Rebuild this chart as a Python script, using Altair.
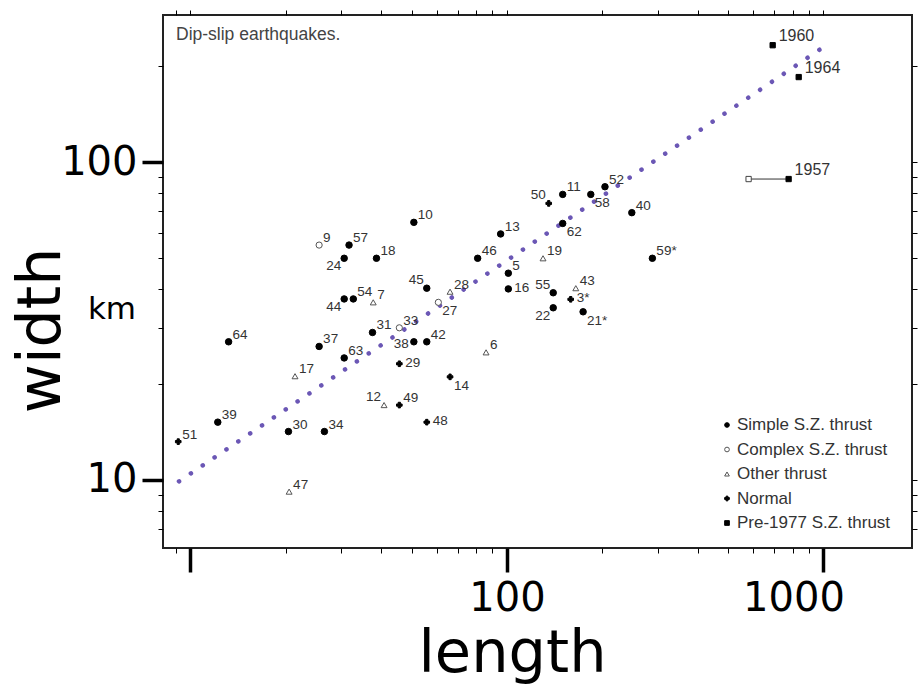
import altair as alt
import pandas as pd

# ---------------- data ----------------
ids = ["9", "57", "24", "18", "10", "13", "46", "5", "45", "16",
       "28", "54", "44", "7", "27", "31", "33", "38", "42", "64",
       "37", "63", "6", "29", "17", "14", "12", "49", "48", "39",
       "30", "34", "51", "47", "50", "11", "52", "58", "40", "62",
       "59*", "19", "55", "43", "3*", "22", "21*", "1960", "1964", "1957"]
lengths = [25.5, 31.7, 30.6, 38.7, 50.8, 95.5, 80.8, 101, 55.8, 101,
           66.1, 32.7, 30.6, 37.8, 60.7, 37.6, 45.7, 50.8, 55.8, 13.2,
           25.5, 30.6, 85.9, 45.7, 21.4, 66.1, 40.9, 45.7, 55.8, 12.2,
           20.4, 26.5, 9.15, 20.5, 135.5, 150, 204, 184, 248, 150,
           288, 130, 140, 165, 159, 140, 174, 691, 835, 776]
widths = [54.8, 54.8, 49.8, 49.8, 64.6, 59.4, 49.8, 44.7, 40.1, 39.9,
          39.1, 37.1, 37.1, 36.2, 36.2, 29.1, 30.1, 27.2, 27.2, 27.2,
          26.3, 24.2, 25.2, 23.2, 21.2, 21.1, 17.2, 17.2, 15.2, 15.2,
          14.2, 14.2, 13.2, 9.19, 74.1, 79.1, 83.6, 79.1, 69.3, 64.1,
          49.8, 49.8, 38.8, 40.1, 37.0, 34.8, 33.8, 233, 185, 88.4]
kinds = ["C", "S", "S", "S", "S", "S", "S", "S", "S", "S",
         "O", "S", "S", "O", "C", "S", "C", "S", "S", "S",
         "S", "S", "O", "N", "O", "N", "O", "N", "N", "S",
         "S", "S", "N", "O", "N", "S", "S", "S", "S", "S",
         "S", "O", "S", "O", "N", "S", "S", "P", "P", "P"]

type_names = {"S": "Simple S.Z. thrust", "C": "Complex S.Z. thrust",
              "O": "Other thrust", "N": "Normal", "P": "Pre-1977 S.Z. thrust"}
type_order = ["Simple S.Z. thrust", "Complex S.Z. thrust", "Other thrust",
              "Normal", "Pre-1977 S.Z. thrust"]

# label placement groups (which side of the point the number sits)
label_right = ["29", "48", "16", "3*"]
label_upper_left = ["45", "55", "50", "12"]
label_lower_left = ["24", "44", "22"]
label_left = ["38"]
label_lower_right = ["27", "62", "58", "14", "21*"]
label_years = ["1960", "1964", "1957"]

# fitted trend line end points
trend_length = [9.2, 1000]
trend_width = [9.9, 230]

# 1957 range (open square to filled square)
range_length = [580, 776]
range_width = [88.4, 88.4]

x_tick_values = [9, 10, 20, 30, 40, 50, 60, 70, 80, 90, 100, 200, 300, 400,
                 500, 600, 700, 800, 900, 1000]
y_tick_values = [7, 8, 9, 10, 20, 30, 40, 50, 60, 70, 80, 90, 100, 200]

title_text = ["Dip-slip earthquakes."]
unit_text = ["km"]

# ---------------- build tables ----------------
def placement(i):
    if i in label_right:
        return "r"
    if i in label_upper_left:
        return "ul"
    if i in label_lower_left:
        return "ll"
    if i in label_left:
        return "l"
    if i in label_lower_right:
        return "lr"
    if i in label_years:
        return "yr"
    return "ur"

df = pd.DataFrame({
    "id": ids, "length": lengths, "width": widths,
    "type": [type_names[k] for k in kinds],
    "pos": [placement(i) for i in ids],
})
trend_df = pd.DataFrame({"length": trend_length, "width": trend_width})
range_df = pd.DataFrame({"length": range_length, "width": range_width})
open_df = pd.DataFrame({"length": range_length[:1], "width": range_width[:1]})
legend_df = pd.DataFrame({"type": type_order})

xscale = alt.Scale(type="log", domain=[8.19, 1904], nice=False, zero=False)
yscale = alt.Scale(type="log", domain=[6.11, 290], nice=False, zero=False)

AXFONT = "DejaVu Sans"
LBFONT = "Liberation Sans"

major_x = "datum.value == 10 || datum.value == 100 || datum.value == 1000"
major_y = "datum.value == 10 || datum.value == 100"

x_axis = alt.Axis(
    orient="bottom", values=x_tick_values, grid=False, domain=False,
    labelExpr="(datum.value == 100 || datum.value == 1000) ? format(datum.value, 'd') : ''",
    tickColor="black",
    tickSize={"condition": {"test": major_x, "value": 24}, "value": 5},
    tickWidth={"condition": {"test": major_x, "value": 3.5}, "value": 1},
    labelFont=AXFONT, labelFontSize=40, labelColor="black", labelPadding=6,
    labelOffset={"condition": {"test": "datum.value == 1000", "value": -30}, "value": 0},
    labelBaseline="top", labelFlush=False, labelOverlap=False,
    title="length", titleFont=AXFONT, titleFontSize=59, titleFontWeight="normal",
    titleColor="black", titleX=349, titleY=123, titleAlign="center",
    titleBaseline="alphabetic",
)
y_axis = alt.Axis(
    orient="left", values=y_tick_values, grid=False, domain=False,
    labelExpr="(datum.value == 10 || datum.value == 100) ? format(datum.value, 'd') : ''",
    tickColor="black",
    tickSize={"condition": {"test": major_y, "value": 21}, "value": 5},
    tickWidth={"condition": {"test": major_y, "value": 3.5}, "value": 1},
    labelFont=AXFONT, labelFontSize=40, labelColor="black", labelPadding=5,
    labelBaseline="middle", labelFlush=False, labelOverlap=False,
    title="width", titleFont=AXFONT, titleFontSize=60, titleFontWeight="normal",
    titleColor="black", titleAngle=270, titleX=-122, titleY=315,
    titleAlign="center", titleBaseline="middle",
)
x_top = alt.Axis(orient="top", values=x_tick_values, grid=False, domain=False,
                 labels=False, tickSize=5, tickColor="black", title=None)
y_right = alt.Axis(orient="right", values=y_tick_values, grid=False, domain=False,
                   labels=False, tickSize=5, tickColor="black", title=None)

def X(axis=None):
    return alt.X("length:Q", scale=xscale, axis=axis)

def Y(axis=None):
    return alt.Y("width:Q", scale=yscale, axis=axis)

shape_scale = alt.Scale(domain=type_order,
                        range=["circle", "circle", "triangle-up", "cross", "square"])
fill_scale = alt.Scale(domain=type_order, range=["black", "white", "white", "black", "black"])
stroke_scale = alt.Scale(domain=type_order, range=["black", "#555", "#555", "black", "black"])

trend = alt.Chart(trend_df).mark_line(
    color="#6b57b5", strokeWidth=4.5, strokeDash=[0.1, 14.2], strokeCap="round"
).encode(x=X(), y=Y())

rng = alt.Chart(range_df).mark_line(color="#333", strokeWidth=1).encode(x=X(), y=Y())
open_sq = alt.Chart(open_df).mark_point(
    shape="square", size=28, filled=True, fill="white", stroke="#444", strokeWidth=1, opacity=1
).encode(x=X(), y=Y())

points = alt.Chart(df).mark_point(filled=True, opacity=1, strokeWidth=1).encode(
    x=X(x_axis), y=Y(y_axis),
    shape=alt.Shape("type:N", scale=shape_scale, legend=None),
    fill=alt.Fill("type:N", scale=fill_scale, legend=None),
    stroke=alt.Stroke("type:N", scale=stroke_scale, legend=None),
    size=alt.Size("type:N", scale=alt.Scale(domain=type_order,
                  range=[42, 28, 26, 34, 48]), legend=None),
)

frame_ticks = alt.Chart(trend_df).mark_point(opacity=0).encode(x=X(x_top), y=Y(y_right))

def labels(pos, align, dx, dy, size=13.5):
    return alt.Chart(df).transform_filter(f"datum.pos == '{pos}'").mark_text(
        font=LBFONT, fontSize=size, color="#333", align=align, baseline="middle",
        dx=dx, dy=dy
    ).encode(x=X(), y=Y(), text="id:N")

label_layers = [
    labels("ur", "left", 4, -7),
    labels("r", "left", 6, -1),
    labels("ul", "right", -3, -8),
    labels("ll", "right", -3, 8),
    labels("l", "right", -5, 2),
    labels("lr", "left", 4, 9),
    labels("yr", "left", 6, -9, 16),
]

# legend (drawn as marks, one row per category)
legend_y = alt.Y("type:N", scale=alt.Scale(type="point", domain=type_order,
                 range=[410, 508], padding=0), axis=None)
legend_symbols = alt.Chart(legend_df).mark_point(
    filled=True, opacity=1, size=22, strokeWidth=1
).encode(
    x=alt.value(564), y=legend_y,
    shape=alt.Shape("type:N", scale=shape_scale, legend=None),
    fill=alt.Fill("type:N", scale=fill_scale, legend=None),
    stroke=alt.Stroke("type:N", scale=stroke_scale, legend=None),
)
legend_labels = alt.Chart(legend_df).mark_text(
    font=LBFONT, fontSize=17, color="#333", align="left", baseline="middle"
).encode(x=alt.value(574), y=legend_y, text="type:N")

title = alt.Chart(pd.DataFrame({"t": title_text})).mark_text(
    font=LBFONT, fontSize=17.5, color="#444", align="left", baseline="middle"
).encode(x=alt.value(13), y=alt.value(20), text="t:N")

unit = alt.Chart(pd.DataFrame({"t": unit_text})).mark_text(
    font=AXFONT, fontSize=31, color="black", align="center", baseline="middle"
).encode(x=alt.value(-51), y=alt.value(295), text="t:N")

chart = alt.layer(
    trend, rng, open_sq, points, frame_ticks, *label_layers,
    legend_symbols, legend_labels, title, unit
).resolve_scale(y="independent").resolve_axis(x="independent", y="independent").properties(
    width=749, height=533,
    autosize=alt.AutoSizeParams(type="none"),
    padding={"left": 163, "top": 15, "right": 8, "bottom": 142},
    background="white",
).configure_view(stroke="#222", strokeWidth=2)

chart.save("out.html", embed_options={"renderer": "svg", "actions": False})
